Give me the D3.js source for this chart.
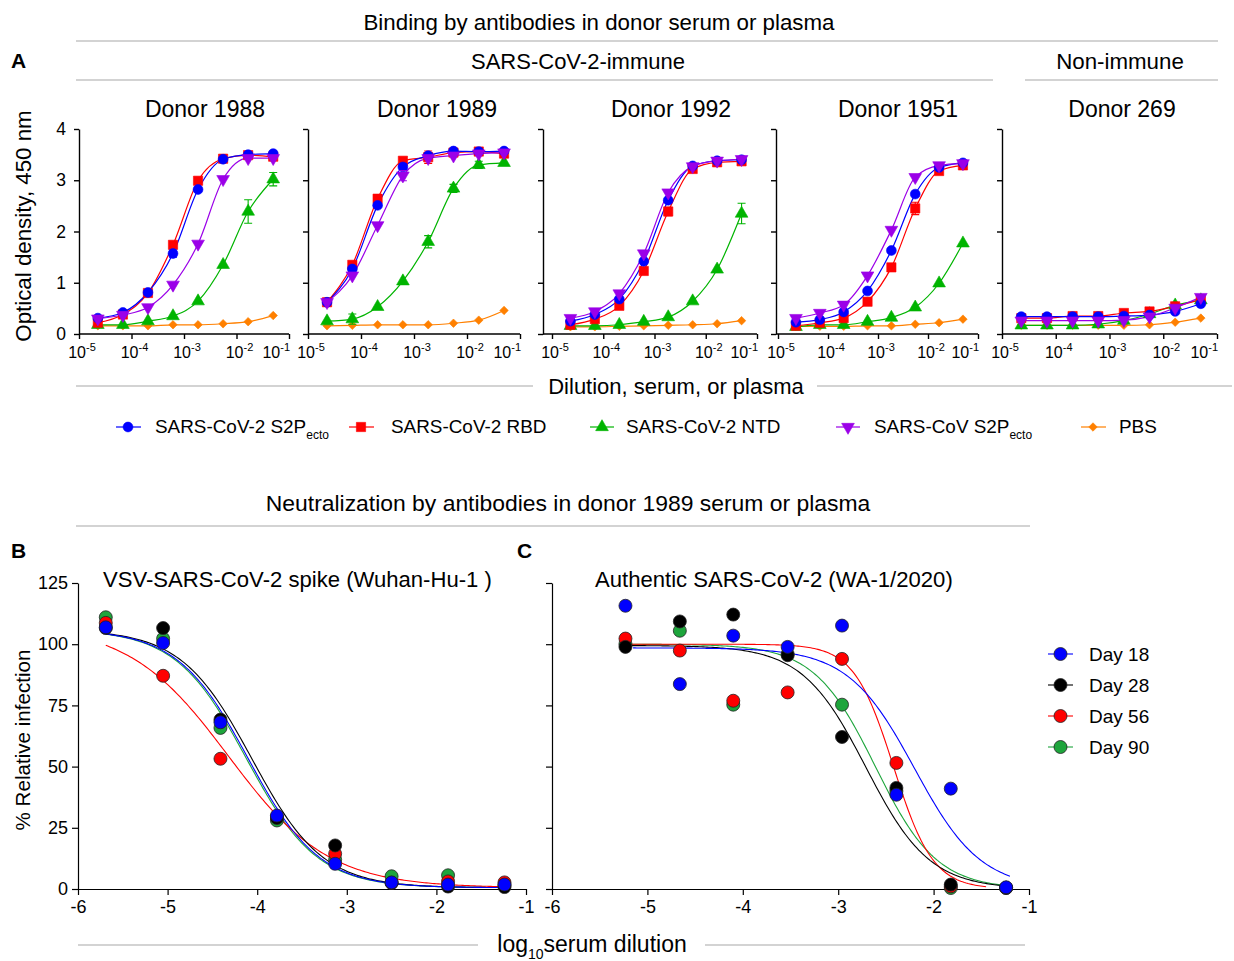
<!DOCTYPE html>
<html><head><meta charset="utf-8">
<script src="https://cdn.jsdelivr.net/npm/d3@7"></script>
<style>
body{margin:0;background:#fff}
svg{display:block}
text{font-family:"Liberation Sans",Arial,Helvetica,sans-serif;fill:#000}
</style>
</head><body>
<svg id="c" width="1234" height="961"></svg>
<script>
// ---------------- DATA ----------------
// Panel A: ELISA binding, 3-fold serial dilutions
const dilutions = [1/43740, 1/14580, 1/4860, 1/1620, 1/540, 1/180, 1/60, 1/20];
const donors = ["Donor 1988", "Donor 1989", "Donor 1992", "Donor 1951", "Donor 269"];
const antigenNames = ["SARS-CoV-2 S2P", "SARS-CoV-2 RBD", "SARS-CoV-2 NTD", "SARS-CoV S2P", "PBS"];
const antigenSubs = ["ecto", "", "", "ecto", ""];
const antigenColors = ["#0000ff", "#ff0000", "#00b400", "#9b00e8", "#ff8000"];
const odTicks = [0, 1, 2, 3, 4];
const dilTicks = [1e-5, 1e-4, 1e-3, 1e-2, 1e-1];
const dilTickExp = ["-5", "-4", "-3", "-2", "-1"];

// OD450 per donor (rows) per dilution (columns)
const odS2P = [
  [0.31, 0.42, 0.81, 1.57, 2.82, 3.41, 3.50, 3.52],
  [0.62, 1.27, 2.51, 3.26, 3.48, 3.57, 3.56, 3.57],
  [0.25, 0.38, 0.68, 1.42, 2.61, 3.28, 3.38, 3.40],
  [0.23, 0.28, 0.43, 0.84, 1.63, 2.73, 3.25, 3.34],
  [0.34, 0.34, 0.34, 0.34, 0.35, 0.37, 0.44, 0.59]];
const odRBD = [
  [0.22, 0.38, 0.80, 1.74, 2.99, 3.42, 3.49, 3.46],
  [0.62, 1.35, 2.64, 3.38, 3.45, 3.54, 3.56, 3.52],
  [0.18, 0.29, 0.55, 1.23, 2.39, 3.22, 3.35, 3.37],
  [0.16, 0.22, 0.31, 0.63, 1.30, 2.45, 3.18, 3.29],
  [0.31, 0.31, 0.35, 0.35, 0.41, 0.44, 0.54, 0.67]];
const odNTD = [
  [0.18, 0.18, 0.25, 0.35, 0.64, 1.35, 2.39, 3.02],
  [0.25, 0.29, 0.53, 1.03, 1.80, 2.84, 3.30, 3.34],
  [0.16, 0.16, 0.18, 0.24, 0.33, 0.64, 1.26, 2.35],
  [0.14, 0.18, 0.18, 0.24, 0.32, 0.52, 0.99, 1.77],
  [0.17, 0.17, 0.17, 0.19, 0.26, 0.39, 0.56, 0.66]];
const odCoV1 = [
  [0.30, 0.37, 0.52, 0.96, 1.76, 3.02, 3.43, 3.43],
  [0.62, 1.14, 2.12, 3.09, 3.43, 3.48, 3.52, 3.54],
  [0.31, 0.44, 0.79, 1.57, 2.76, 3.27, 3.38, 3.41],
  [0.31, 0.41, 0.57, 1.14, 2.03, 3.06, 3.29, 3.33],
  [0.26, 0.26, 0.26, 0.26, 0.27, 0.34, 0.51, 0.72]];
const odPBS = [
  [0.16, 0.16, 0.16, 0.18, 0.18, 0.20, 0.24, 0.36],
  [0.16, 0.17, 0.18, 0.18, 0.18, 0.21, 0.27, 0.46],
  [0.14, 0.14, 0.15, 0.16, 0.17, 0.18, 0.20, 0.26],
  [0.15, 0.15, 0.15, 0.16, 0.16, 0.19, 0.22, 0.29],
  [0.17, 0.17, 0.17, 0.17, 0.17, 0.18, 0.23, 0.31]];
// error (SEM) per donor per dilution
const errS2P = [
  [0, 0, 0, 0.07, 0, 0, 0, 0],
  [0, 0, 0, 0.06, 0, 0, 0, 0],
  [0, 0, 0, 0, 0, 0, 0, 0],
  [0, 0, 0, 0, 0, 0, 0, 0],
  [0, 0, 0, 0, 0, 0, 0, 0]];
const errRBD = [
  [0, 0, 0, 0, 0, 0, 0, 0],
  [0, 0, 0.08, 0, 0.12, 0, 0, 0],
  [0, 0, 0, 0, 0.08, 0, 0, 0],
  [0, 0, 0, 0, 0, 0.12, 0, 0],
  [0, 0, 0, 0, 0, 0, 0, 0]];
const errNTD = [
  [0, 0, 0, 0, 0, 0, 0.23, 0.13],
  [0, 0.1, 0, 0, 0.12, 0.08, 0.07, 0],
  [0, 0, 0, 0, 0, 0, 0, 0.2],
  [0, 0, 0, 0, 0, 0, 0, 0],
  [0, 0, 0, 0, 0, 0, 0, 0]];
const errCoV1 = [
  [0, 0, 0, 0, 0, 0, 0, 0],
  [0, 0, 0, 0.1, 0, 0, 0, 0],
  [0, 0, 0, 0, 0, 0, 0, 0],
  [0, 0, 0, 0, 0, 0, 0, 0],
  [0, 0, 0, 0, 0, 0, 0, 0]];
const errPBS = [
  [0, 0, 0, 0, 0, 0, 0, 0],
  [0, 0, 0, 0, 0, 0, 0, 0],
  [0, 0, 0, 0, 0, 0, 0, 0],
  [0, 0, 0, 0, 0, 0, 0, 0],
  [0, 0, 0, 0, 0, 0, 0, 0]];

// Panels B & C: neutralization, donor 1989
const dayNames = ["Day 18", "Day 28", "Day 56", "Day 90"];
const dayColors = ["#0000ff", "#000000", "#ff0000", "#1ea53c"];
const infTicks = [0, 25, 50, 75, 100, 125];
const logTicks = [-6, -5, -4, -3, -2, -1];

const logDilB = [-5.69, -5.05, -4.41, -3.78, -3.13, -2.50, -1.87, -1.24];
const infB18 = [106.9, 100.5, 68.1, 30.0, 10.3, 2.7, 1.8, 1.8];
const infB28 = [106.6, 106.6, 69.2, 29.0, 17.8, 2.5, 1.0, 0.8];
const infB56 = [108.7, 87.1, 53.2, 29.4, 14.4, 2.5, 3.1, 2.7];
const infB90 = [111.0, 102.3, 65.8, 28.0, 12.0, 5.2, 5.6, 1.5];
// fitted 4-parameter curves: [top, bottom, logIC50, hill, xStart, xEnd]
const fitB18 = [106, 0.5, -4.10, 1.10, -5.69, -1.19];
const fitB28 = [106, 0.5, -4.06, 1.10, -5.69, -1.19];
const fitB56 = [108, 0.5, -4.32, 0.78, -5.69, -1.19];
const fitB90 = [106, 0.5, -4.12, 1.10, -5.69, -1.19];

const logDilC = [-5.23, -4.66, -4.10, -3.53, -2.96, -2.39, -1.82, -1.24];
const infC18 = [115.7, 83.7, 103.5, 98.9, 107.6, 38.5, 41.0, 0.7];
const infC28 = [98.9, 109.3, 112.1, 95.5, 62.1, 41.3, 1.8, 0.5];
const infC56 = [102.3, 97.4, 76.9, 80.3, 94.0, 51.5, 1.1, 0.5];
const infC90 = [100.1, 105.5, 75.3, 96.0, 75.3, 40.0, 0.4, 0.4];
const fitC18 = [98.5, 0, -2.20, 1.25, -5.15, -1.20];
const fitC28 = [99.5, 0, -2.71, 1.30, -5.29, -1.22];
const fitC56 = [100, 0, -2.42, 2.10, -5.24, -1.45];
const fitC90 = [100, 0, -2.61, 1.35, -5.22, -1.22];

// ---------------- DRAWING ----------------
const FONT = '"Liberation Sans",Arial,Helvetica,sans-serif';
const svg = d3.select("#c");
svg.append("rect").attr("width", 1234).attr("height", 961).attr("fill", "#fff");

function hline(x1, x2, y) {
  svg.append("line").attr("x1", x1).attr("x2", x2).attr("y1", y).attr("y2", y)
    .attr("stroke", "#c4c4c4").attr("stroke-width", 1.3);
}
function txt(x, y, s, size, anchor, weight) {
  return svg.append("text").attr("x", x).attr("y", y).attr("font-size", size)
    .attr("text-anchor", anchor || "middle").attr("font-weight", weight || "normal").text(s);
}

// headers
txt(599, 30, "Binding by antibodies in donor serum or plasma", 22.3);
hline(76, 1218, 41);
txt(11, 68, "A", 21, "start", "bold");
txt(578, 69, "SARS-CoV-2-immune", 22);
hline(76, 993, 80);
txt(1120, 69, "Non-immune", 22.3);
hline(1025, 1218, 80);

// symbols
const symTypes = [d3.symbolCircle, d3.symbolSquare, d3.symbolTriangle, d3.symbolTriangle, d3.symbolSquare];
const symSizes = [76, 86, 70, 70, 36];
const symRot = [0, 0, 0, 180, 45];
function marker(g, i, x, y) {
  g.append("path").attr("d", d3.symbol().type(symTypes[i]).size(symSizes[i])())
    .attr("transform", `translate(${x},${y}) rotate(${symRot[i]})`)
    .attr("fill", antigenColors[i]).attr("stroke", antigenColors[i]).attr("stroke-width", 0.6);
}

const panelsA = [
  {yAxisX: 79, x0: 79, x1: 289, title: 205},
  {yAxisX: 308, x0: 308, x1: 520, title: 437},
  {yAxisX: 543, x0: 552, x1: 757, title: 671},
  {yAxisX: 776, x0: 778, x1: 978, title: 898},
  {yAxisX: 1002, x0: 1002, x1: 1217, title: 1122}
];
const odSets = [odS2P, odRBD, odNTD, odCoV1, odPBS];
const errSets = [errS2P, errRBD, errNTD, errCoV1, errPBS];
const drawOrder = [4, 2, 1, 0, 3];
const yA = d3.scaleLinear().domain([0, 4]).range([334, 129]);

panelsA.forEach((p, pi) => {
  const g = svg.append("g");
  const x = d3.scaleLog().domain([1e-5, 1e-1]).range([p.x0, p.x1]);
  txt(p.title, 117, donors[pi], 23);
  // y axis
  const ya = d3.axisLeft(yA).tickValues(odTicks).tickSize(5).tickSizeOuter(0).tickPadding(8)
    .tickFormat(pi === 0 ? d3.format("d") : () => "");
  const yg = g.append("g").attr("transform", `translate(${p.yAxisX},0)`).call(ya);
  // x axis
  const xa = d3.axisBottom(x).tickValues(dilTicks).tickSize(5).tickSizeOuter(0).tickPadding(4)
    .tickFormat(() => "");
  const xg = g.append("g").attr("transform", `translate(0,334)`).call(xa);
  xg.select(".domain").remove();
  xg.selectAll(".tick text").remove();
  g.append("line").attr("x1", p.yAxisX).attr("x2", p.x1).attr("y1", 334).attr("y2", 334)
    .attr("stroke", "#000").attr("stroke-width", 1.4);
  [yg, xg].forEach(a => {
    a.selectAll(".domain").attr("stroke", "#000").attr("stroke-width", 1.4);
    a.selectAll(".tick line").attr("stroke", "#000").attr("stroke-width", 1.4);
    a.selectAll("text").attr("font-family", FONT).attr("font-size", 17.5).attr("fill", "#000");
  });
  dilTicks.forEach((t, ti) => {
    const last = ti === dilTicks.length - 1;
    const tt = g.append("text").attr("x", last ? x(t) + 1 : x(t) + 3).attr("y", 358)
      .attr("text-anchor", last ? "end" : "middle").attr("font-size", 16);
    tt.append("tspan").text("10");
    tt.append("tspan").attr("dy", -7).attr("font-size", 11).text(dilTickExp[ti]);
  });
  // curves
  const line = d3.line().x(d => x(d[0])).y(d => yA(d[1])).curve(d3.curveMonotoneX);
  drawOrder.forEach(si => {
    const pts = dilutions.map((dv, k) => [dv, odSets[si][pi][k]]);
    g.append("path").attr("d", line(pts)).attr("fill", "none")
      .attr("stroke", antigenColors[si]).attr("stroke-width", 1.2);
  });
  // error bars + markers
  drawOrder.forEach(si => {
    dilutions.forEach((dv, k) => {
      const v = odSets[si][pi][k], e = errSets[si][pi][k];
      if (e > 0) {
        const cx = x(dv);
        g.append("path").attr("d",
          `M${cx},${yA(v - e)}V${yA(v + e)}M${cx - 4},${yA(v - e)}H${cx + 4}M${cx - 4},${yA(v + e)}H${cx + 4}`)
          .attr("stroke", antigenColors[si]).attr("stroke-width", 1.1).attr("fill", "none");
      }
    });
    dilutions.forEach((dv, k) => marker(g, si, x(dv), yA(odSets[si][pi][k])));
  });
});

// y label A
svg.append("text").attr("transform", "translate(31,226) rotate(-90)").attr("text-anchor", "middle")
  .attr("font-size", 22.3).text("Optical density, 450 nm");

// x label A
txt(676, 394, "Dilution, serum, or plasma", 22);
hline(76, 533, 386);
hline(817, 1232, 386);

// legend A
const legA = [
  {l1: 116, l2: 141, m: 128, t: 155},
  {l1: 349, l2: 374, m: 361, t: 391},
  {l1: 590, l2: 614, m: 602, t: 626},
  {l1: 836, l2: 860, m: 848, t: 874},
  {l1: 1081, l2: 1106, m: 1093, t: 1119}
];
legA.forEach((L, i) => {
  svg.append("line").attr("x1", L.l1).attr("x2", L.l2).attr("y1", 427).attr("y2", 427)
    .attr("stroke", antigenColors[i]).attr("stroke-width", 1.2);
  marker(svg, i, L.m, 427);
  const t = svg.append("text").attr("x", L.t).attr("y", 433).attr("font-size", 18.9);
  t.append("tspan").text(antigenNames[i]);
  if (antigenSubs[i]) t.append("tspan").attr("dy", 6).attr("font-size", 12).text(antigenSubs[i]);
});

// ---------------- Panels B, C ----------------
txt(568, 511, "Neutralization by antibodies in donor 1989 serum or plasma", 22.9);
hline(76, 1030, 526);
txt(11, 558, "B", 21, "start", "bold");
txt(517, 558, "C", 21, "start", "bold");

const yB = d3.scaleLinear().domain([0, 125]).range([889, 583]);
function fourPL(f, xv) { return f[1] + (f[0] - f[1]) / (1 + Math.pow(10, (xv - f[2]) * f[3])); }

function neutPanel(x0, x1, showY, logDil, sets, fits, title, titleX) {
  const g = svg.append("g");
  const x = d3.scaleLinear().domain([-6, -1]).range([x0, x1]);
  const ya = d3.axisLeft(yB).tickValues(infTicks).tickSize(6).tickSizeOuter(0).tickPadding(4)
    .tickFormat(showY ? d3.format("d") : () => "");
  const yg = g.append("g").attr("transform", `translate(${x0},0)`).call(ya);
  const xa = d3.axisBottom(x).tickValues(logTicks).tickSize(6).tickSizeOuter(0).tickPadding(5)
    .tickFormat(d => d3.format("d")(d).replace("−", "-"));
  const xg = g.append("g").attr("transform", `translate(0,889)`).call(xa);
  [yg, xg].forEach(a => {
    a.selectAll(".domain").attr("stroke", "#000").attr("stroke-width", 1.2);
    a.selectAll(".tick line").attr("stroke", "#000").attr("stroke-width", 1.2);
    a.selectAll("text").attr("font-family", FONT).attr("font-size", 18).attr("fill", "#000");
  });
  txt(titleX, 587, title, 22.1, "start");
  const order = [3, 2, 1, 0];
  const line = d3.line().x(d => x(d[0])).y(d => yB(d[1]));
  order.forEach(si => {
    const f = fits[si];
    const pts = d3.range(0, 201).map(k => {
      const xv = f[4] + (f[5] - f[4]) * k / 200;
      return [xv, fourPL(f, xv)];
    });
    g.append("path").attr("d", line(pts)).attr("fill", "none")
      .attr("stroke", dayColors[si]).attr("stroke-width", 1.1);
  });
  order.forEach(si => {
    g.selectAll(null).data(logDil.map((lv, k) => [lv, sets[si][k]])).join("circle")
      .attr("cx", d => x(d[0])).attr("cy", d => yB(d[1])).attr("r", 6.5)
      .attr("fill", dayColors[si]).attr("stroke", "#222").attr("stroke-width", 0.8);
  });
}
neutPanel(78, 526, true, logDilB, [infB18, infB28, infB56, infB90],
  [fitB18, fitB28, fitB56, fitB90], "VSV-SARS-CoV-2 spike (Wuhan-Hu-1 )", 103);
neutPanel(552, 1029, false, logDilC, [infC18, infC28, infC56, infC90],
  [fitC18, fitC28, fitC56, fitC90], "Authentic SARS-CoV-2 (WA-1/2020)", 595);

// y label B
svg.append("text").attr("transform", "translate(30,740) rotate(-90)").attr("text-anchor", "middle")
  .attr("font-size", 20.6).text("% Relative infection");

// x label B/C
const xl = svg.append("text").attr("x", 592).attr("y", 952).attr("text-anchor", "middle").attr("font-size", 23);
xl.append("tspan").text("log");
xl.append("tspan").attr("dy", 7).attr("font-size", 14).text("10");
xl.append("tspan").attr("dy", -7).text("serum dilution");
hline(78, 478, 945);
hline(705, 1025, 945);

// legend B/C
const legY = [654, 685, 716, 747];
dayNames.forEach((n, i) => {
  svg.append("line").attr("x1", 1048).attr("x2", 1073).attr("y1", legY[i]).attr("y2", legY[i])
    .attr("stroke", dayColors[i]).attr("stroke-width", 1.1);
  svg.append("circle").attr("cx", 1060.5).attr("cy", legY[i]).attr("r", 6.5)
    .attr("fill", dayColors[i]).attr("stroke", "#222").attr("stroke-width", 0.8);
  txt(1089, legY[i] + 6.5, n, 19, "start");
});
</script>
</body></html>
